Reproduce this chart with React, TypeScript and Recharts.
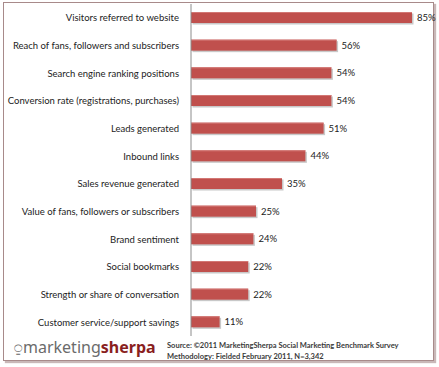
import { BarChart, Bar, XAxis, YAxis, LabelList } from "recharts"

const categories = [
  "Visitors referred to website",
  "Reach of fans, followers and subscribers",
  "Search engine ranking positions",
  "Conversion rate (registrations, purchases)",
  "Leads generated",
  "Inbound links",
  "Sales revenue generated",
  "Value of fans, followers or subscribers",
  "Brand sentiment",
  "Social bookmarks",
  "Strength or share of conversation",
  "Customer service/support savings",
]

const values = [85, 56, 54, 54, 51, 44, 35, 25, 24, 22, 22, 11]

const data = categories.map((name, i) => ({ name, value: values[i] }))

const font = "Lato, 'Open Sans', sans-serif"

function ShadowBar(props: any) {
  const { x, y, width, height } = props
  if (!width || width <= 0) return null
  return (
    <g>
      <rect x={x + 1.5} y={y + 1.5} width={width} height={height} fill="#c8c8c8" />
      <rect x={x} y={y} width={width} height={height} fill="#c0504d" />
      <rect x={x} y={y} width={width} height={1} fill="#d27774" />
    </g>
  )
}

function CategoryTick(props: any) {
  const { x, y, payload } = props
  return (
    <text
      x={x}
      y={y}
      dy={3.5}
      textAnchor="end"
      fontSize={9.5}
      fontFamily={font}
      fill="#222"
    >
      {payload.value}
    </text>
  )
}

export default function App() {
  return (
    <div
      style={{
        position: "absolute",
        left: 0,
        top: 0,
        width: 439,
        height: 367,
        background: "#fff",
        fontFamily: font,
      }}
    >
      <div
        style={{
          position: "absolute",
          left: 3,
          top: 2,
          width: 429,
          height: 357,
          border: "1px solid #a88a8a",
          boxShadow: "2px 2px 1px #c9b8b8",
        }}
      />
      <div style={{ position: "absolute", left: 0, top: 0 }}>
        <BarChart
          width={439}
          height={367}
          data={data}
          layout="vertical"
          margin={{ top: 4, right: 14, bottom: 31, left: 0 }}
          barSize={11}
        >
          <XAxis type="number" domain={[0, 90]} hide />
          <YAxis
            type="category"
            dataKey="name"
            width={191}
            tickLine={false}
            tickSize={0}
            tickMargin={12}
            axisLine={{ stroke: "#8c8c8c" }}
            tick={<CategoryTick />}
            interval={0}
          />
          <Bar dataKey="value" shape={<ShadowBar />} isAnimationActive={false}>
            <LabelList
              dataKey="value"
              position="right"
              offset={5}
              formatter={(v: any) => `${v}%`}
              style={{ fontSize: 9.5, fill: "#222", fontFamily: font }}
            />
          </Bar>
        </BarChart>
      </div>
      <div
        style={{
          position: "absolute",
          left: 14,
          top: 336,
          fontFamily: "'Noto Sans', sans-serif",
          fontSize: 16,
          lineHeight: "22px",
          whiteSpace: "nowrap",
        }}
      >
        <span style={{ color: "#666", fontSize: 14, marginRight: 1 }}>⍜</span>
        <span style={{ color: "#6b6b6b" }}>marketing</span>
        <span style={{ color: "#8a1f1f", fontWeight: 700 }}>sherpa</span>
      </div>
      <div
        style={{
          position: "absolute",
          left: 167,
          top: 340,
          fontSize: 7.5,
          lineHeight: "11px",
          color: "#3a3a3a",
          fontWeight: 700,
          whiteSpace: "nowrap",
        }}
      >
        <div>Source: ©2011 MarketingSherpa Social Marketing Benchmark Survey</div>
        <div>Methodology: Fielded February 2011, N=3,342</div>
      </div>
    </div>
  )
}
